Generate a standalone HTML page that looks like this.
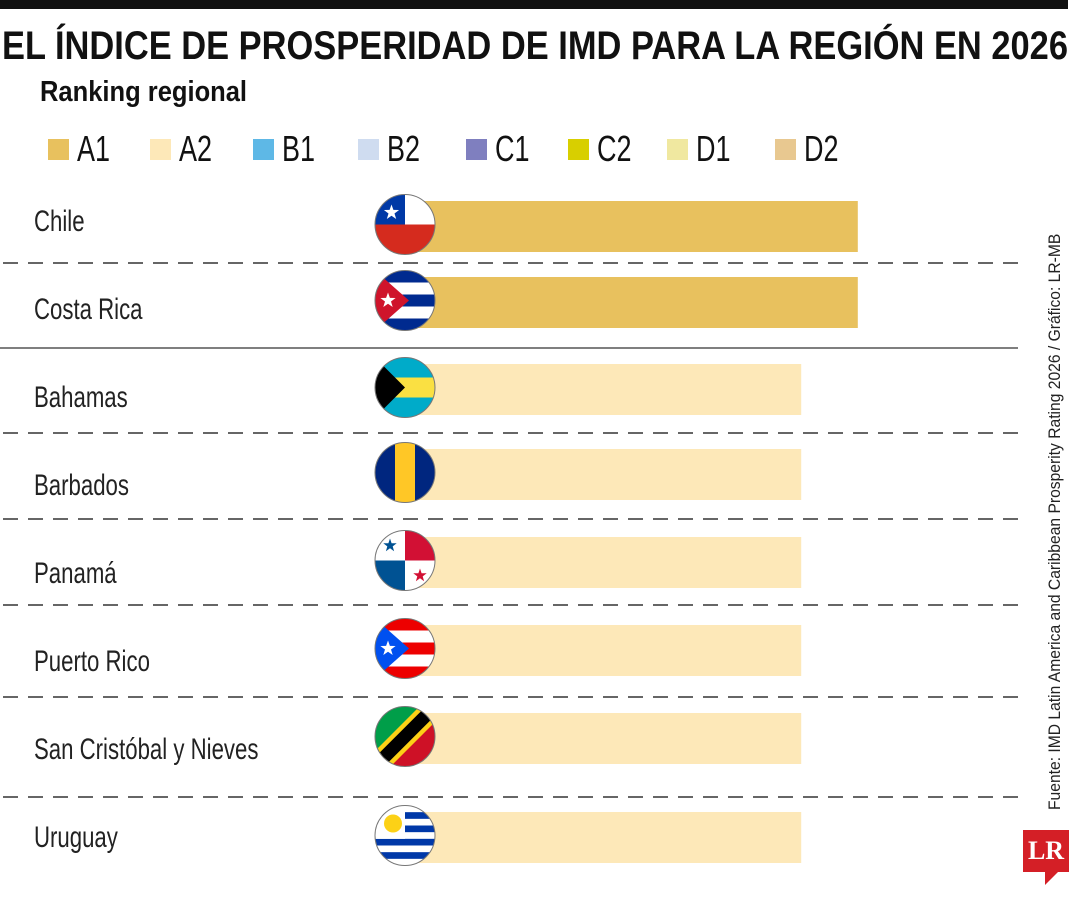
<!DOCTYPE html>
<html><head><meta charset="utf-8">
<style>
body{margin:0;width:1080px;height:900px;background:#fff;overflow:hidden;font-family:"Liberation Sans Narrow","Liberation Sans",sans-serif;position:relative}
.abs{position:absolute}
</style></head><body>
<div class="abs" style="left:0;top:0;width:1068px;height:9px;background:#111"></div>
<div class="abs" id="title" style="left:2px;top:24px;font-size:40px;font-weight:bold;color:#111;white-space:nowrap;transform-origin:0 0">EL ÍNDICE DE PROSPERIDAD DE IMD PARA LA REGIÓN EN 2026</div>
<div class="abs" style="left:40px;top:76px;font-size:29px;font-weight:bold;color:#111;white-space:nowrap;transform-origin:0 0;transform:scaleX(0.88)">Ranking regional</div>
<svg class="abs" style="left:0;top:0" width="1080" height="900" id="chart"></svg>
<div class="abs" style="left:1045px;top:810px;transform-origin:0 0;transform:rotate(-90deg) scaleX(0.92);font-size:17px;color:#222;white-space:nowrap">Fuente: IMD Latin America and Caribbean Prosperity Rating 2026 / Gráfico: LR-MB</div>
<div class="abs" style="left:1023px;top:830px;width:46px;height:42px;background:#d41f26;color:#fff;font-family:'Liberation Serif',serif;font-weight:bold;font-size:26px;text-align:center;line-height:42px">LR</div>
<div class="abs" style="left:1045px;top:871px;width:0;height:0;border-right:14px solid transparent;border-top:14px solid #d41f26"></div>
<script>
const categories=["Chile","Costa Rica","Bahamas","Barbados","Panamá","Puerto Rico","San Cristóbal y Nieves","Uruguay"];
const ratings=["A1","A1","A2","A2","A2","A2","A2","A2"];
const values=[8,8,7,7,7,7,7,7];
const legendLabels=["A1","A2","B1","B2","C1","C2","D1","D2"];
const legendColors=["#e8c15e","#fde8b8","#5eb8e6","#cfdcf0","#7f7fbf","#d8cf00","#f0e8a0","#e8c890"];
const tEl=document.getElementById('title');
tEl.style.transform='scaleX('+(1066/tEl.scrollWidth)+')';
const svg=document.getElementById('chart');
const NS="http://www.w3.org/2000/svg";
function mk(t,a,p){const e=document.createElementNS(NS,t);for(const k in a)e.setAttribute(k,a[k]);(p||svg).appendChild(e);return e;}
const x0=405;function xs(v){return x0+v*56.6;}
const rowTops=[201,277,364,449,537,625,713,812];
function yRow(i){return rowTops[i];}
function yLabel(i){return 231+i*88;}
const legX=[48,150,253,358,466,568,667,775];
legendLabels.forEach((l,i)=>{
 const r=mk('rect',{x:legX[i],y:139,width:21,height:21,fill:legendColors[i]});
 
 
 const t=mk('text',{x:0,y:0,'font-size':36,fill:'#111',transform:`translate(${legX[i]+29},161) scale(0.75,1)`});t.textContent=l;
 
 
});
[263,433,519,605,697,797].forEach(y=>{
 const l=mk('line',{x1:3,x2:1018,y1:y,y2:y,stroke:'#333','stroke-width':1.5,'stroke-dasharray':'15,10'});
 
 
});
const sl=mk('line',{x1:0,x2:1018,y1:348,y2:348,stroke:'#333','stroke-width':1.2});


const colorOf={A1:'#e8c15e',A2:'#fde8b8'};
categories.forEach((c,i)=>{
 const y=yRow(i),h=51;
 const b=mk('rect',{x:x0,y:y,width:xs(values[i])-x0,height:h,fill:colorOf[ratings[i]]});
 
 
 const t=mk('text',{x:0,y:0,'font-size':30,fill:'#222',transform:`translate(34,${yLabel(i)}) scale(0.74,1)`});t.textContent=c;
 
 
 drawFlag(i,405,y+h/2-2);
});
function star(g,cx,cy,r,f){let p=[];for(let k=0;k<10;k++){const a=-Math.PI/2+k*Math.PI/5,rr=k%2?r*0.4:r;p.push((cx+rr*Math.cos(a)).toFixed(1)+','+(cy+rr*Math.sin(a)).toFixed(1));}mk('polygon',{points:p.join(' '),fill:f},g);}
function drawFlag(i,cx,cy){
 const r=30,id='cl'+i;
 const cp=mk('clipPath',{id:id});mk('circle',{cx:cx,cy:cy,r:r},cp);
 const g=mk('g',{'clip-path':'url(#'+id+')'});
 
 
 function R(x,y,w,h,f){mk('rect',{x:x,y:y,width:w,height:h,fill:f},g);}
 function P(pts,f){mk('polygon',{points:pts,fill:f},g);}
 const L=cx-r,T=cy-r,W=2*r;
 if(i==0){R(L,T,W,W,'#d52b1e');R(L,T,W,r,'#fff');R(L,T,r,r,'#0039a6');star(g,L+r*0.55,T+r*0.6,8,'#fff');}
 else if(i==1){for(let k=0;k<5;k++)R(L,T+k*W/5,W,W/5,k%2?'#fff':'#002a8f');P(`${L},${T} ${cx+4},${cy} ${L},${T+W}`,'#cf142b');star(g,L+13,cy,8,'#fff');}
 else if(i==2){R(L,T,W,W/3,'#00abc9');R(L,T+W/3,W,W/3,'#fae042');R(L,T+2*W/3,W,W/3,'#00abc9');P(`${L},${T} ${cx},${cy} ${L},${T+W}`,'#000');}
 else if(i==3){R(L,T,W/3,W,'#00267f');R(L+W/3,T,W/3,W,'#ffc726');R(L+2*W/3,T,W/3,W,'#00267f');}
 else if(i==4){R(L,T,W,W,'#fff');R(cx,T,r,r,'#d21034');R(L,cy,r,r,'#005293');star(g,L+r/2,T+r/2,7,'#005293');star(g,cx+r/2,cy+r/2,7,'#d21034');}
 else if(i==5){for(let k=0;k<5;k++)R(L,T+k*W/5,W,W/5,k%2?'#fff':'#ed0000');P(`${L},${T} ${cx+4},${cy} ${L},${T+W}`,'#0050f0');star(g,L+13,cy,8,'#fff');}
 else if(i==6){P(`${L},${T} ${L+W},${T} ${L},${T+W}`,'#009e49');P(`${L+W},${T} ${L+W},${T+W} ${L},${T+W}`,'#ce1126');mk('line',{x1:L+W,y1:T,x2:L,y2:T+W,stroke:'#fcd116','stroke-width':22},g);mk('line',{x1:L+W,y1:T,x2:L,y2:T+W,stroke:'#000','stroke-width':13},g);}
 else {R(L,T,W,W,'#fff');for(let k=1;k<9;k+=2)R(L,T+k*W/9,W,W/9,'#0038a8');R(L,T,r,5*W/9,'#fff');mk('circle',{cx:L+r/2+3,cy:T+r/2+3,r:9,fill:'#fcd116'},g);}
 const o=mk('circle',{cx:cx,cy:cy,r:r,fill:'none',stroke:'#777','stroke-width':1});
 
 
}
</script>
</body></html>
